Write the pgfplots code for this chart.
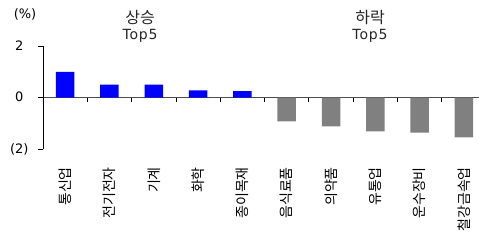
\documentclass[border=0pt]{standalone}
\usepackage{fontspec}
\setmainfont{DejaVu Sans}
\newfontfamily\kr{Noto Sans CJK KR}
\usepackage{pgfplots}
\pgfplotsset{compat=1.18}
\definecolor{barblue}{RGB}{0,0,255}
\definecolor{bargray}{RGB}{128,128,128}
\begin{document}
\begin{tikzpicture}
\useasboundingbox (0,0) rectangle (479pt,240pt);
\begin{axis}[
  scale only axis, width=436pt, height=103.3pt,
  at={(43pt,90.7pt)}, anchor=south west,
  xmin=-0.5, xmax=9.34, ymin=-2, ymax=2,
  axis x line=middle, axis y line=left,
  axis line style={-},
  x axis line style={draw=black!70, line width=1.2pt},
  y axis line style={draw=black, line width=0.8pt},
  ytick={-2,0,2}, yticklabels={(2),0\phantom{)},2\phantom{)}},
  ytick align=outside, xtick align=outside,
  major tick length=5pt, minor tick length=4.5pt,
  tick style={black, line width=0.8pt},
  major x tick style={draw=none},
  xtick={0,...,9},
  minor xtick={0.5,1.5,...,8.5},
  xticklabels={통신업,전기전자,기계,화학,종이목재,음식료품,의약품,유통업,운수장비,철강금속업},
  xticklabel style={yshift=-61pt, rotate=90, anchor=east, font=\kr\fontsize{14}{14}\selectfont},
  yticklabel style={xshift=-6pt, font=\fontsize{13}{13}\selectfont},
  /pgf/number format/assume math mode=true,
  clip=false,
]
\addplot[ybar, bar width=18.5pt, fill=barblue, draw=none] coordinates {(0,1.0) (1,0.5) (2,0.5) (3,0.28) (4,0.25)};
\addplot[ybar, bar width=18.5pt, fill=bargray, draw=none] coordinates {(5,-0.92) (6,-1.11) (7,-1.31) (8,-1.35) (9,-1.54)};
\node[align=center, font=\fontsize{14}{16}\selectfont, text=black!85] at (axis cs:1.69,2.78) {{\kr\fontsize{16}{16}\selectfont 상승}\\\addfontfeature{LetterSpace=6}Top5};
\node[align=center, font=\fontsize{14}{16}\selectfont, text=black!85] at (axis cs:6.88,2.78) {{\kr\fontsize{16}{16}\selectfont 하락}\\\addfontfeature{LetterSpace=6}Top5};
\node[font=\fontsize{13}{13}\selectfont] at (axis cs:-0.906,3.22) {(\%)};
\end{axis}
\end{tikzpicture}
\end{document}
